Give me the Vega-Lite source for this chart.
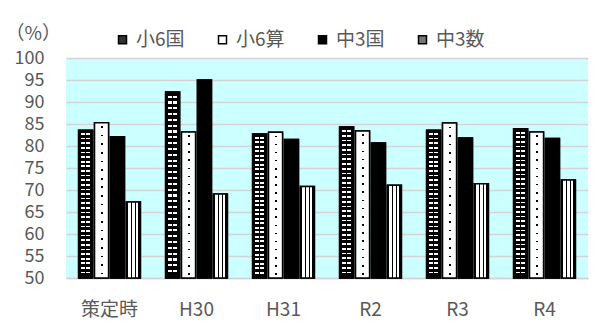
{
"$schema": "https://vega.github.io/schema/vega-lite/v6.json",
"width": 522, "height": 220,
"autosize": {"type": "none"},
"padding": {"left": 66, "top": 58, "right": 7, "bottom": 46},
"background": "white",
"config": {
 "view": {"fill": "#ccffff", "stroke": null},
 "font": "Noto Sans CJK JP",
 "axis": {"labelFontSize": 18, "labelColor": "#595959", "ticks": false, "gridColor": "#d4d4d4", "gridWidth": 1.5}
},
"data": {"values": [
 {"period": "策定時", "series": "小6国", "value": 83.6},
 {"period": "策定時", "series": "小6算", "value": 85.3},
 {"period": "策定時", "series": "中3国", "value": 82.1},
 {"period": "策定時", "series": "中3数", "value": 67.3},
 {"period": "H30", "series": "小6国", "value": 92.3},
 {"period": "H30", "series": "小6算", "value": 83.2},
 {"period": "H30", "series": "中3国", "value": 95.0},
 {"period": "H30", "series": "中3数", "value": 69.1},
 {"period": "H31", "series": "小6国", "value": 82.7},
 {"period": "H31", "series": "小6算", "value": 83.1},
 {"period": "H31", "series": "中3国", "value": 81.5},
 {"period": "H31", "series": "中3数", "value": 70.8},
 {"period": "R2", "series": "小6国", "value": 84.3},
 {"period": "R2", "series": "小6算", "value": 83.4},
 {"period": "R2", "series": "中3国", "value": 80.7},
 {"period": "R2", "series": "中3数", "value": 71.1},
 {"period": "R3", "series": "小6国", "value": 83.6},
 {"period": "R3", "series": "小6算", "value": 85.2},
 {"period": "R3", "series": "中3国", "value": 81.8},
 {"period": "R3", "series": "中3数", "value": 71.4},
 {"period": "R4", "series": "小6国", "value": 83.9},
 {"period": "R4", "series": "小6算", "value": 83.2},
 {"period": "R4", "series": "中3国", "value": 81.7},
 {"period": "R4", "series": "中3数", "value": 72.3}
]},
"encoding": {
 "x": {"field": "period", "type": "nominal",
  "scale": {"domain": ["策定時", "H30", "H31", "R2", "R3", "R4"], "paddingInner": 0.29, "paddingOuter": 0.145},
  "axis": {"labelAngle": 0, "title": null, "domainColor": "#d4d4d4", "domainWidth": 1.5, "labelPadding": 22, "labelFontSize": 19}},
 "xOffset": {"field": "series", "type": "nominal",
  "scale": {"domain": ["小6国", "小6算", "中3国", "中3数"], "paddingInner": 0.12, "paddingOuter": 0}},
 "y": {"field": "value", "type": "quantitative",
  "scale": {"domain": [50, 100], "nice": false, "zero": false},
  "axis": {"values": [50, 55, 60, 65, 70, 75, 80, 85, 90, 95, 100], "domain": false, "labelPadding": 22,
   "title": "（%）", "titleAngle": 0, "titleX": -61, "titleY": -25, "titleAlign": "left", "titleBaseline": "middle",
   "titleFontSize": 19, "titleFontWeight": "normal", "titleColor": "#595959"}},
 "y2": {"datum": 50}
},
"layer": [
 {"mark": {"type": "bar", "stroke": "black", "strokeWidth": 1.5},
  "encoding": {"color": {"field": "series", "type": "nominal",
   "scale": {"domain": ["小6国", "小6算", "中3国", "中3数"], "range": ["#333333", "white", "black", "#777777"]},
   "legend": {"orient": "none", "legendX": 47, "legendY": -28, "direction": "horizontal", "title": null,
    "symbolType": "square", "symbolSize": 64, "symbolStrokeColor": "black", "symbolStrokeWidth": 1.5,
    "labelFontSize": 19, "labelColor": "#595959", "labelOffset": 4, "columnPadding": 28,
    "encode": {"symbols": {"update": {
     "stroke": {"value": "black"}, "strokeWidth": {"value": 1.5}, "opacity": {"value": 1},
     "fill": {"signal": "datum.value === '中3数' ? {gradient: 'linear', x1: 0, y1: 0, x2: 1, y2: 0, stops: [{offset: 0, color: 'black'}, {offset: 0.2, color: 'black'}, {offset: 0.2, color: 'white'}, {offset: 0.35, color: 'white'}, {offset: 0.35, color: 'black'}, {offset: 0.45, color: 'black'}, {offset: 0.45, color: 'white'}, {offset: 0.58, color: 'white'}, {offset: 0.58, color: 'black'}, {offset: 0.67, color: 'black'}, {offset: 0.67, color: 'white'}, {offset: 0.8, color: 'white'}, {offset: 0.8, color: 'black'}, {offset: 1, color: 'black'}]} : datum.value === '小6国' ? {gradient: 'linear', x1: 0, y1: 0, x2: 0, y2: 1, stops: [{offset: 0, color: 'black'}, {offset: 0.25, color: 'black'}, {offset: 0.25, color: '#dddddd'}, {offset: 0.4, color: '#dddddd'}, {offset: 0.4, color: 'black'}, {offset: 0.6, color: 'black'}, {offset: 0.6, color: '#dddddd'}, {offset: 0.75, color: '#dddddd'}, {offset: 0.75, color: 'black'}, {offset: 1, color: 'black'}]} : datum.value === '小6算' ? 'white' : 'black'"}}}}
   }}}},
 {"transform": [{"filter": "datum.series === '小6国'"}],
  "mark": {"type": "bar", "fill": {"gradient": "linear", "x1": 0, "y1": 0, "x2": 0, "y2": 1, "stops": [
   {"offset": 0, "color": "black"}, {"offset": 0.02, "color": "black"}, {"offset": 0.02, "color": "white"}, {"offset": 0.03125, "color": "white"},
   {"offset": 0.03125, "color": "black"}, {"offset": 0.05125, "color": "black"}, {"offset": 0.05125, "color": "white"}, {"offset": 0.0625, "color": "white"},
   {"offset": 0.0625, "color": "black"}, {"offset": 0.0825, "color": "black"}, {"offset": 0.0825, "color": "white"}, {"offset": 0.09375, "color": "white"},
   {"offset": 0.09375, "color": "black"}, {"offset": 0.11375, "color": "black"}, {"offset": 0.11375, "color": "white"}, {"offset": 0.125, "color": "white"},
   {"offset": 0.125, "color": "black"}, {"offset": 0.145, "color": "black"}, {"offset": 0.145, "color": "white"}, {"offset": 0.15625, "color": "white"},
   {"offset": 0.15625, "color": "black"}, {"offset": 0.17625, "color": "black"}, {"offset": 0.17625, "color": "white"}, {"offset": 0.1875, "color": "white"},
   {"offset": 0.1875, "color": "black"}, {"offset": 0.2075, "color": "black"}, {"offset": 0.2075, "color": "white"}, {"offset": 0.21875, "color": "white"},
   {"offset": 0.21875, "color": "black"}, {"offset": 0.23875, "color": "black"}, {"offset": 0.23875, "color": "white"}, {"offset": 0.25, "color": "white"},
   {"offset": 0.25, "color": "black"}, {"offset": 0.27, "color": "black"}, {"offset": 0.27, "color": "white"}, {"offset": 0.28125, "color": "white"},
   {"offset": 0.28125, "color": "black"}, {"offset": 0.30125, "color": "black"}, {"offset": 0.30125, "color": "white"}, {"offset": 0.3125, "color": "white"},
   {"offset": 0.3125, "color": "black"}, {"offset": 0.3325, "color": "black"}, {"offset": 0.3325, "color": "white"}, {"offset": 0.34375, "color": "white"},
   {"offset": 0.34375, "color": "black"}, {"offset": 0.36375, "color": "black"}, {"offset": 0.36375, "color": "white"}, {"offset": 0.375, "color": "white"},
   {"offset": 0.375, "color": "black"}, {"offset": 0.395, "color": "black"}, {"offset": 0.395, "color": "white"}, {"offset": 0.40625, "color": "white"},
   {"offset": 0.40625, "color": "black"}, {"offset": 0.42625, "color": "black"}, {"offset": 0.42625, "color": "white"}, {"offset": 0.4375, "color": "white"},
   {"offset": 0.4375, "color": "black"}, {"offset": 0.4575, "color": "black"}, {"offset": 0.4575, "color": "white"}, {"offset": 0.46875, "color": "white"},
   {"offset": 0.46875, "color": "black"}, {"offset": 0.48875, "color": "black"}, {"offset": 0.48875, "color": "white"}, {"offset": 0.5, "color": "white"},
   {"offset": 0.5, "color": "black"}, {"offset": 0.52, "color": "black"}, {"offset": 0.52, "color": "white"}, {"offset": 0.53125, "color": "white"},
   {"offset": 0.53125, "color": "black"}, {"offset": 0.55125, "color": "black"}, {"offset": 0.55125, "color": "white"}, {"offset": 0.5625, "color": "white"},
   {"offset": 0.5625, "color": "black"}, {"offset": 0.5825, "color": "black"}, {"offset": 0.5825, "color": "white"}, {"offset": 0.59375, "color": "white"},
   {"offset": 0.59375, "color": "black"}, {"offset": 0.61375, "color": "black"}, {"offset": 0.61375, "color": "white"}, {"offset": 0.625, "color": "white"},
   {"offset": 0.625, "color": "black"}, {"offset": 0.645, "color": "black"}, {"offset": 0.645, "color": "white"}, {"offset": 0.65625, "color": "white"},
   {"offset": 0.65625, "color": "black"}, {"offset": 0.67625, "color": "black"}, {"offset": 0.67625, "color": "white"}, {"offset": 0.6875, "color": "white"},
   {"offset": 0.6875, "color": "black"}, {"offset": 0.7075, "color": "black"}, {"offset": 0.7075, "color": "white"}, {"offset": 0.71875, "color": "white"},
   {"offset": 0.71875, "color": "black"}, {"offset": 0.73875, "color": "black"}, {"offset": 0.73875, "color": "white"}, {"offset": 0.75, "color": "white"},
   {"offset": 0.75, "color": "black"}, {"offset": 0.77, "color": "black"}, {"offset": 0.77, "color": "white"}, {"offset": 0.78125, "color": "white"},
   {"offset": 0.78125, "color": "black"}, {"offset": 0.80125, "color": "black"}, {"offset": 0.80125, "color": "white"}, {"offset": 0.8125, "color": "white"},
   {"offset": 0.8125, "color": "black"}, {"offset": 0.8325, "color": "black"}, {"offset": 0.8325, "color": "white"}, {"offset": 0.84375, "color": "white"},
   {"offset": 0.84375, "color": "black"}, {"offset": 0.86375, "color": "black"}, {"offset": 0.86375, "color": "white"}, {"offset": 0.875, "color": "white"},
   {"offset": 0.875, "color": "black"}, {"offset": 0.895, "color": "black"}, {"offset": 0.895, "color": "white"}, {"offset": 0.90625, "color": "white"},
   {"offset": 0.90625, "color": "black"}, {"offset": 0.92625, "color": "black"}, {"offset": 0.92625, "color": "white"}, {"offset": 0.9375, "color": "white"},
   {"offset": 0.9375, "color": "black"}, {"offset": 0.9575, "color": "black"}, {"offset": 0.9575, "color": "white"}, {"offset": 0.96875, "color": "white"},
   {"offset": 0.96875, "color": "black"}, {"offset": 1, "color": "black"}
  ]}}},
 {"transform": [{"filter": "datum.series === '小6国'"}],
  "mark": {"type": "bar", "fill": {"gradient": "linear", "x1": 0, "y1": 0, "x2": 1, "y2": 0, "stops": [
   {"offset": 0, "color": "black"}, {"offset": 0.2, "color": "black"}, {"offset": 0.2, "color": "rgba(0,0,0,0)"}, {"offset": 0.44, "color": "rgba(0,0,0,0)"},
   {"offset": 0.44, "color": "black"}, {"offset": 0.56, "color": "black"}, {"offset": 0.56, "color": "rgba(0,0,0,0)"}, {"offset": 0.8, "color": "rgba(0,0,0,0)"},
   {"offset": 0.8, "color": "black"}, {"offset": 1, "color": "black"}
  ]}}},
 {"transform": [{"filter": "datum.series === '小6算'"}],
  "mark": {"type": "bar", "fill": {"gradient": "linear", "x1": 0, "y1": 0, "x2": 0, "y2": 1, "stops": [
   {"offset": 0, "color": "white"},
   {"offset": 0.022, "color": "white"}, {"offset": 0.022, "color": "black"}, {"offset": 0.033, "color": "black"}, {"offset": 0.033, "color": "white"},
   {"offset": 0.07756, "color": "white"}, {"offset": 0.07756, "color": "black"}, {"offset": 0.08856, "color": "black"}, {"offset": 0.08856, "color": "white"},
   {"offset": 0.13311, "color": "white"}, {"offset": 0.13311, "color": "black"}, {"offset": 0.14411, "color": "black"}, {"offset": 0.14411, "color": "white"},
   {"offset": 0.18867, "color": "white"}, {"offset": 0.18867, "color": "black"}, {"offset": 0.19967, "color": "black"}, {"offset": 0.19967, "color": "white"},
   {"offset": 0.24422, "color": "white"}, {"offset": 0.24422, "color": "black"}, {"offset": 0.25522, "color": "black"}, {"offset": 0.25522, "color": "white"},
   {"offset": 0.29978, "color": "white"}, {"offset": 0.29978, "color": "black"}, {"offset": 0.31078, "color": "black"}, {"offset": 0.31078, "color": "white"},
   {"offset": 0.35533, "color": "white"}, {"offset": 0.35533, "color": "black"}, {"offset": 0.36633, "color": "black"}, {"offset": 0.36633, "color": "white"},
   {"offset": 0.41089, "color": "white"}, {"offset": 0.41089, "color": "black"}, {"offset": 0.42189, "color": "black"}, {"offset": 0.42189, "color": "white"},
   {"offset": 0.46644, "color": "white"}, {"offset": 0.46644, "color": "black"}, {"offset": 0.47744, "color": "black"}, {"offset": 0.47744, "color": "white"},
   {"offset": 0.522, "color": "white"}, {"offset": 0.522, "color": "black"}, {"offset": 0.533, "color": "black"}, {"offset": 0.533, "color": "white"},
   {"offset": 0.57756, "color": "white"}, {"offset": 0.57756, "color": "black"}, {"offset": 0.58856, "color": "black"}, {"offset": 0.58856, "color": "white"},
   {"offset": 0.63311, "color": "white"}, {"offset": 0.63311, "color": "black"}, {"offset": 0.64411, "color": "black"}, {"offset": 0.64411, "color": "white"},
   {"offset": 0.68867, "color": "white"}, {"offset": 0.68867, "color": "black"}, {"offset": 0.69967, "color": "black"}, {"offset": 0.69967, "color": "white"},
   {"offset": 0.74422, "color": "white"}, {"offset": 0.74422, "color": "black"}, {"offset": 0.75522, "color": "black"}, {"offset": 0.75522, "color": "white"},
   {"offset": 0.79978, "color": "white"}, {"offset": 0.79978, "color": "black"}, {"offset": 0.81078, "color": "black"}, {"offset": 0.81078, "color": "white"},
   {"offset": 0.85533, "color": "white"}, {"offset": 0.85533, "color": "black"}, {"offset": 0.86633, "color": "black"}, {"offset": 0.86633, "color": "white"},
   {"offset": 0.91089, "color": "white"}, {"offset": 0.91089, "color": "black"}, {"offset": 0.92189, "color": "black"}, {"offset": 0.92189, "color": "white"},
   {"offset": 0.96644, "color": "white"}, {"offset": 0.96644, "color": "black"}, {"offset": 0.97744, "color": "black"}, {"offset": 0.97744, "color": "white"},
   {"offset": 1, "color": "white"}
  ]}}},
 {"transform": [{"filter": "datum.series === '小6算'"}],
  "mark": {"type": "bar", "fill": {"gradient": "linear", "x1": 0, "y1": 0, "x2": 1, "y2": 0, "stops": [
   {"offset": 0, "color": "white"}, {"offset": 0.45, "color": "white"}, {"offset": 0.45, "color": "rgba(255,255,255,0)"},
   {"offset": 0.57, "color": "rgba(255,255,255,0)"}, {"offset": 0.57, "color": "white"}, {"offset": 1, "color": "white"}
  ]}}},
 {"transform": [{"filter": "datum.series === '中3数'"}],
  "mark": {"type": "bar", "fill": {"gradient": "linear", "x1": 0, "y1": 0, "x2": 1, "y2": 0, "stops": [
   {"offset": 0, "color": "black"}, {"offset": 0.15, "color": "black"}, {"offset": 0.15, "color": "white"}, {"offset": 0.3, "color": "white"},
   {"offset": 0.3, "color": "black"}, {"offset": 0.42, "color": "black"}, {"offset": 0.42, "color": "white"}, {"offset": 0.58, "color": "white"},
   {"offset": 0.58, "color": "black"}, {"offset": 0.7, "color": "black"}, {"offset": 0.7, "color": "white"}, {"offset": 0.85, "color": "white"},
   {"offset": 0.85, "color": "black"}, {"offset": 1, "color": "black"}
  ]}}},
 {"mark": {"type": "bar", "fill": "transparent", "stroke": "black", "strokeWidth": 1.5}}
]
}
